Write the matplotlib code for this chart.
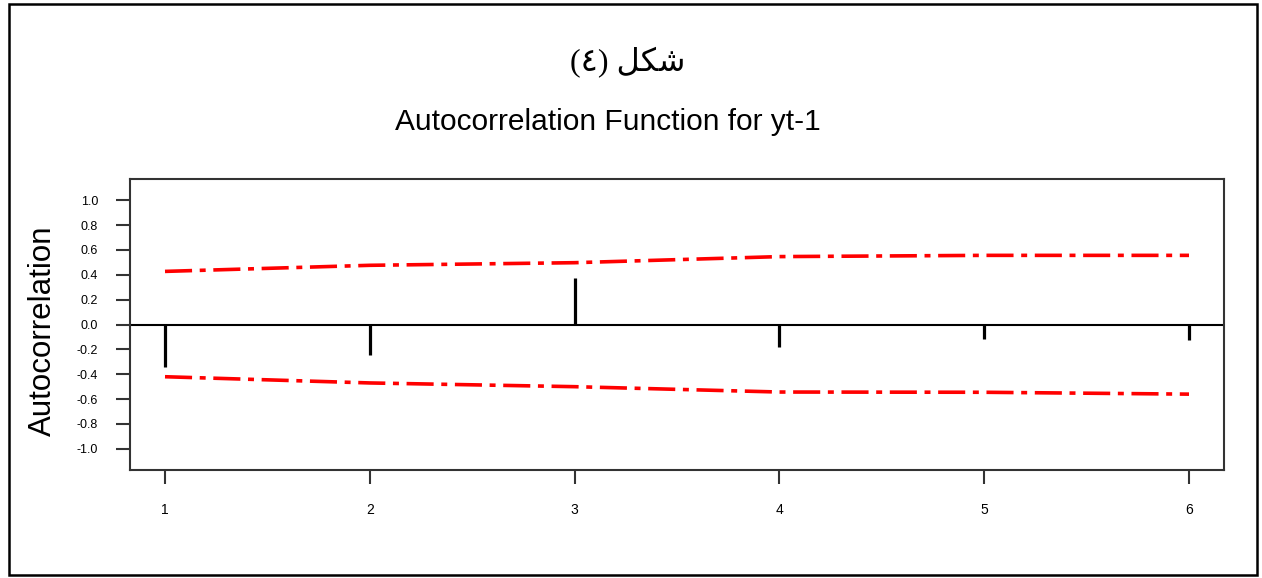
import matplotlib
matplotlib.use("Agg")
import matplotlib.pyplot as plt
from matplotlib.patches import Rectangle

# values
lags = [1, 2, 3, 4, 5, 6]
acf = [-0.345, -0.242, 0.377, -0.183, -0.113, -0.127]
upper = [0.427, 0.476, 0.497, 0.546, 0.556, 0.556]
lower = [-0.420, -0.470, -0.500, -0.543, -0.545, -0.560]
yticks = [-1.0, -0.8, -0.6, -0.4, -0.2, 0.0, 0.2, 0.4, 0.6, 0.8, 1.0]

plt.rcParams["lines.scale_dashes"] = False
plt.rcParams["font.family"] = "Liberation Sans"

fig = plt.figure(figsize=(12.62, 5.78), dpi=100)
ax = fig.add_axes([130 / 1262, 1 - 470 / 578, (1224 - 130) / 1262, (470 - 179) / 578])

ax.axhline(0, color="black", lw=1.5, zorder=2)
ax.vlines(lags, 0, acf, color="black", lw=2.3, zorder=3)
dash = (19.5, 5.5, 4.3, 5.5)
ax.plot(lags, upper, color="red", lw=2.6, dashes=dash, dash_capstyle="butt")
ax.plot(lags, lower, color="red", lw=2.6, dashes=dash, dash_capstyle="butt")

ax.set_xlim(1 - 35 / 204.8, 6 + 35 / 204.8)
ax.set_ylim(-1.17, 1.17)
ax.set_xticks(lags)
ax.set_xticklabels([str(l) for l in lags], fontsize=10)
ax.set_yticks(yticks)
ax.set_yticklabels(["%.1f" % v for v in yticks], fontsize=9)
ax.tick_params(axis="both", length=10, width=1.5, color="#333333")
ax.tick_params(axis="y", pad=13)
ax.tick_params(axis="x", pad=14)
for s in ax.spines.values():
    s.set_linewidth(1.5)
    s.set_color("#333333")

ax.set_ylabel("Autocorrelation", fontsize=22.5)
ax.yaxis.set_label_coords(-(130 - 58) / 1094, 0.48)

fig.text(628 / 1262, 1 - 63 / 578, "(\u0664) \uFEDE\uFEDC\uFEB7",
         family=["Liberation Serif", "DejaVu Sans"], fontsize=23, ha="center", va="center")
fig.text(608 / 1262, 1 - 122 / 578, "Autocorrelation Function for yt-1",
         fontsize=21.5, ha="center", va="center")

fig.patches.append(Rectangle((9 / 1262, 3 / 578), (1257 - 9) / 1262, (575 - 4) / 578,
                             transform=fig.transFigure, fill=False, lw=1.8, ec="black"))

fig.savefig("out.png", dpi=100)
